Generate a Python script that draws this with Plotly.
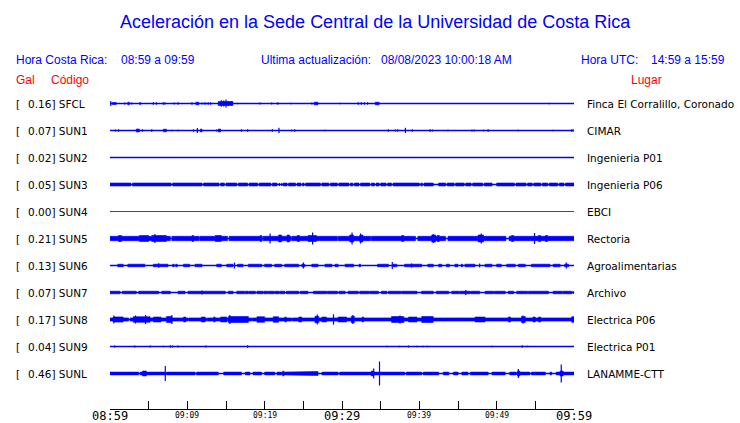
import plotly.graph_objects as go

# ---------------- data ----------------
codes = ["SFCL", "SUN1", "SUN2", "SUN3", "SUN4", "SUN5", "SUN6", "SUN7", "SUN8", "SUN9", "SUNL"]
gal = [0.16, 0.07, 0.02, 0.05, 0.00, 0.21, 0.13, 0.07, 0.17, 0.04, 0.46]
places = ["Finca El Corralillo, Coronado", "CIMAR", "Ingenieria P01", "Ingenieria P06", "EBCI",
          "Rectoria", "Agroalimentarias", "Archivo", "Electrica P06", "Electrica P01", "LANAMME-CTT"]

tick_minutes = list(range(0, 61, 5))
label_minutes = [0, 10, 20, 30, 40, 50, 60]
label_text = ["08:59", "09:09", "09:19", "09:29", "09:39", "09:49", "09:59"]
label_major = [True, False, False, True, False, False, True]

# Envelope data (time in minutes after 08:59, amplitude in relative units)
sfcl_band = 0.0
sfcl_gaps = []
sfcl_bursts = [(0.3, 0.8, 1.0), (2.3, 2.5, 1.3), (11.1, 11.5, 1.3), (14.0, 15.9, 2.0),
               (26.4, 26.9, 1.3), (34.3, 34.8, 1.3)]
sfcl_spikes = [(0.1, 2.5), (1.9, 1.0), (2.8, 1.0), (3.9, 1.5), (5.6, 1.2), (6.0, 1.2), (6.9, 1.2),
               (7.1, 1.0), (8.3, 1.0), (8.8, 1.2), (10.6, 1.2), (11.9, 1.0), (12.2, 1.0), (12.4, 1.0),
               (12.7, 1.2), (13.0, 1.2), (14.4, 3.3), (14.7, 3.0), (15.0, 4.0), (15.3, 2.5), (15.7, 2.0),
               (16.5, 0.8), (19.4, 1.0), (20.9, 1.0), (21.7, 1.2), (23.4, 0.8), (26.1, 1.0), (29.7, 0.8),
               (32.1, 1.2), (32.5, 1.2), (32.9, 1.2), (33.3, 1.2), (56.8, 0.8)]

sun1_band = 0.0
sun1_gaps = []
sun1_bursts = [(3.4, 3.8, 1.5), (6.9, 7.3, 1.3), (11.7, 11.9, 1.5), (14.0, 14.3, 1.5)]
sun1_spikes = [(0.7, 1.0), (1.1, 1.2), (4.2, 1.2), (5.4, 1.2), (8.0, 0.8), (8.8, 0.8), (10.8, 1.2),
               (11.3, 2.5), (13.8, 1.0), (17.0, 1.2), (17.8, 1.2), (21.0, 1.2), (21.85, 2.7), (23.5, 1.0),
               (23.9, 1.2), (27.8, 0.8), (36.0, 1.2), (36.9, 1.0), (37.2, 1.2), (38.2, 2.7), (39.1, 1.2),
               (41.4, 1.2), (41.7, 1.0), (43.7, 0.8), (46.8, 1.0), (47.1, 1.0), (48.3, 0.8), (48.9, 1.2),
               (52.8, 0.8), (57.3, 0.8), (59.7, 1.2), (59.9, 1.0)]

sun2_band = 0.0
sun2_gaps = []
sun2_bursts = []
sun2_spikes = []

sun3_band = 1.5
sun3_gaps = [(2.7, 2.9), (7.9, 8.1), (11.9, 12.1), (14.1, 14.3), (14.8, 15.0), (16.4, 16.6), (17.8, 18.0),
             (19.1, 19.3), (20.8, 21.0), (21.6, 22.4), (22.9, 23.1), (24.0, 24.2), (24.7, 24.9),
             (25.1, 25.3), (27.2, 27.4), (28.3, 28.5), (29.4, 29.6), (30.9, 31.1), (31.4, 31.6),
             (32.2, 32.4), (33.6, 33.8), (34.2, 34.4), (34.8, 35.0), (35.7, 35.9), (36.4, 36.6),
             (40.0, 40.2), (40.4, 40.6), (41.8, 42.5), (43.4, 43.6), (44.5, 44.7), (45.8, 46.0),
             (46.7, 46.9), (48.2, 48.4), (49.4, 50.0), (52.3, 52.5), (53.8, 54.0), (54.6, 54.8),
             (55.7, 55.9), (56.6, 56.8), (57.9, 58.1), (58.7, 58.9)]
sun3_bursts = []
sun3_spikes = [(21.9, 1.5), (22.2, 1.5)]

sun4_band = 0.0
sun4_gaps = []
sun4_bursts = []
sun4_spikes = []

sun5_band = 2.2
sun5_gaps = [(7.8, 8.0), (11.5, 11.6), (15.2, 15.4), (19.7, 19.8), (23.4, 23.5), (29.4, 29.5),
             (33.7, 33.8), (39.5, 39.8), (43.4, 43.7), (51.2, 51.6)]
sun5_bursts = [(1.1, 1.5, 3.0), (3.8, 5.0, 3.0), (5.4, 7.3, 3.0), (8.4, 10.1, 2.5), (10.6, 10.8, 3.0),
               (12.3, 13.1, 2.5), (13.6, 14.4, 3.0), (17.5, 18.3, 2.5), (19.4, 19.6, 3.0), (21.8, 22.2, 3.5),
               (22.9, 23.2, 3.5), (24.2, 24.5, 3.0), (25.6, 26.7, 3.0), (28.7, 28.9, 2.5), (29.7, 30.4, 2.5),
               (31.0, 31.5, 3.5), (32.3, 32.7, 3.5), (37.7, 38.0, 3.0), (41.6, 42.1, 3.5), (42.3, 42.6, 3.0),
               (47.6, 48.3, 3.5), (51.9, 52.2, 3.0), (55.4, 55.7, 3.0), (56.3, 56.6, 3.0)]
sun5_spikes = [(5.8, 4.5), (20.7, 5.0), (26.2, 6.0), (31.3, 6.0), (32.4, 5.0), (41.8, 4.5), (48.0, 5.0),
               (54.9, 5.5)]

sun6_band = 0.0
sun6_gaps = []
sun6_bursts = [(1.0, 1.7, 1.3), (2.3, 4.5, 1.3), (5.6, 7.5, 1.3), (6.0, 6.6, 2.0), (8.1, 8.3, 1.3),
               (8.5, 8.7, 1.3), (9.5, 10.3, 1.3), (11.0, 11.9, 1.3), (13.8, 14.4, 1.3), (15.1, 15.9, 1.3),
               (16.5, 17.2, 1.3), (17.9, 19.6, 1.3), (20.0, 20.9, 1.3), (21.3, 22.2, 1.3), (22.6, 24.4, 1.3),
               (24.8, 25.2, 1.3), (26.1, 26.9, 1.3), (27.8, 28.7, 1.3), (29.1, 29.5, 1.3), (30.4, 31.5, 1.3),
               (32.2, 32.4, 1.3), (34.6, 36.0, 1.3), (36.6, 37.1, 1.3), (38.1, 40.3, 1.3), (41.1, 41.8, 1.3),
               (42.5, 42.9, 1.3), (43.5, 43.9, 1.3), (44.6, 45.0, 1.3), (45.4, 45.6, 1.3), (45.9, 47.2, 1.3),
               (48.5, 49.4, 1.3), (50.0, 50.6, 1.3), (51.3, 52.4, 1.3), (52.8, 53.7, 1.3), (54.5, 56.9, 1.3),
               (57.3, 58.2, 1.3), (58.8, 59.3, 1.3)]
sun6_spikes = [(6.3, 2.2), (16.1, 3.0), (25.0, 3.0), (36.5, 3.5), (39.0, 2.0), (47.8, 2.0), (59.0, 3.0)]

sun7_band = 1.3
sun7_gaps = [(1.3, 1.6), (3.4, 3.7), (6.3, 6.7), (7.8, 8.8), (9.7, 10.1), (14.9, 15.3), (15.9, 16.4),
             (17.4, 17.5), (17.9, 18.0), (18.8, 19.0), (19.8, 19.9), (20.4, 20.5), (21.2, 21.3), (21.9, 22.0),
             (22.6, 22.8), (24.4, 24.6), (25.6, 26.3), (28.0, 28.1), (29.4, 29.6), (30.4, 30.8), (32.1, 32.3),
             (33.5, 33.6), (34.7, 35.1), (35.8, 36.0), (37.6, 37.7), (39.7, 40.3), (41.8, 42.2), (43.8, 44.2),
             (45.1, 45.2), (46.6, 46.7), (47.8, 48.5), (49.6, 49.7), (51.1, 51.5), (52.2, 52.6), (54.0, 54.1),
             (56.7, 57.3), (58.5, 58.6), (59.7, 60.0)]
sun7_bursts = []
sun7_spikes = [(11.9, 2.0), (46.0, 2.5), (59.9, 1.5)]

sun8_band = 1.6
sun8_gaps = [(2.4, 2.6), (10.1, 10.2), (12.5, 12.6), (18.3, 18.4), (23.5, 23.6)]
sun8_bursts = [(0.4, 1.7, 2.6), (3.0, 5.2, 2.8), (5.6, 6.6, 2.5), (7.3, 8.0, 3.0), (9.5, 9.8, 2.5),
               (11.8, 12.3, 2.5), (13.4, 13.6, 2.5), (14.3, 15.1, 2.5), (15.3, 17.9, 3.0), (19.0, 20.0, 2.8),
               (21.1, 21.8, 2.8), (22.6, 22.8, 2.5), (24.4, 24.8, 2.5), (26.5, 27.0, 3.2), (27.4, 28.0, 2.5),
               (29.5, 30.6, 2.5), (31.2, 31.6, 3.2), (32.6, 32.8, 2.5), (36.4, 38.0, 3.0), (38.6, 39.7, 2.5),
               (40.3, 41.8, 3.0), (45.7, 45.9, 2.2), (47.2, 48.5, 2.5), (51.5, 51.8, 2.5), (53.2, 53.7, 3.0),
               (54.7, 55.0, 2.5), (55.4, 55.7, 2.5), (59.7, 60.0, 2.8)]
sun8_spikes = [(0.5, 4.0), (3.3, 4.0), (4.6, 4.5), (8.0, 4.5), (15.5, 4.5), (26.8, 5.0), (28.9, 5.2),
               (31.4, 4.5), (37.5, 4.0), (53.4, 4.0)]

sun9_band = 0.0
sun9_gaps = []
sun9_bursts = []
sun9_spikes = [(0.6, 1.0), (3.2, 1.0), (5.2, 1.0), (6.9, 0.8), (7.8, 1.2), (8.1, 1.0), (8.8, 1.0),
               (12.4, 1.0), (17.8, 1.2), (35.8, 0.8), (37.4, 0.8), (38.6, 1.0), (39.7, 0.8), (40.5, 0.8),
               (41.0, 0.8), (49.4, 0.8), (53.3, 1.2), (54.0, 0.8)]

sunl_band = 1.4
sunl_gaps = [(3.7, 3.9), (7.1, 7.3), (11.0, 11.2), (14.0, 14.7), (17.0, 17.5), (18.1, 18.5), (19.6, 20.0),
             (21.3, 21.6), (22.2, 22.3), (26.9, 27.4), (29.5, 29.7), (38.1, 38.3), (40.3, 40.5),
             (42.5, 43.1), (43.8, 44.4), (45.0, 45.5), (46.3, 46.6), (48.9, 49.4), (51.1, 51.7),
             (52.5, 52.6), (54.3, 54.5), (56.3, 56.9), (57.1, 57.7)]
sunl_bursts = [(3.0, 3.3, 1.8), (4.2, 4.7, 2.5), (12.5, 12.8, 2.0), (20.1, 20.3, 1.8), (22.3, 22.5, 2.3),
               (26.7, 26.9, 2.0), (33.8, 34.1, 2.5), (38.7, 39.0, 2.0), (52.7, 53.0, 2.5), (58.2, 58.6, 2.5)]
sunl_spikes = [(4.5, 2.5), (7.15, 7.5), (34.1, 5.0), (34.85, 12.0), (52.8, 4.5), (58.35, 9.0)]

bands = [sfcl_band, sun1_band, sun2_band, sun3_band, sun4_band, sun5_band, sun6_band, sun7_band,
         sun8_band, sun9_band, sunl_band]
gaps_all = [sfcl_gaps, sun1_gaps, sun2_gaps, sun3_gaps, sun4_gaps, sun5_gaps, sun6_gaps, sun7_gaps,
            sun8_gaps, sun9_gaps, sunl_gaps]
bursts_all = [sfcl_bursts, sun1_bursts, sun2_bursts, sun3_bursts, sun4_bursts, sun5_bursts, sun6_bursts,
              sun7_bursts, sun8_bursts, sun9_bursts, sunl_bursts]
spikes_all = [sfcl_spikes, sun1_spikes, sun2_spikes, sun3_spikes, sun4_spikes, sun5_spikes, sun6_spikes,
              sun7_spikes, sun8_spikes, sun9_spikes, sunl_spikes]

# ---------------- drawing ----------------
BLUE = "#0000ff"
RED = "#ff0000"
T0, T1 = 0.0, 60.0
AMP = 1.0 / 27.0          # amplitude unit -> row units

W, H = 740, 423
L, R, TOP, BOT = 110, 574, 90, 409


def px(x):
    return (x - L) / (R - L)


def py(y):
    return (BOT - y) / (BOT - TOP)


fig = go.Figure()

for i, code in enumerate(codes):
    band, gaps, bursts, spikes = bands[i], gaps_all[i], bursts_all[i], spikes_all[i]
    color = RED if code == "SUN4" else BLUE
    # baseline
    fig.add_trace(go.Scatter(x=[T0, T1], y=[i, i], mode="lines",
                             line=dict(color=color, width=1.0 if code == "SUN4" else 1.3),
                             hoverinfo="skip", showlegend=False))
    # envelope polygon
    cuts = {T0, T1}
    for a, b in gaps:
        cuts |= {a, b}
    for a, b, _ in bursts:
        cuts |= {a, b}
    cuts = sorted(c for c in cuts if T0 <= c <= T1)
    segs = []
    for a, b in zip(cuts[:-1], cuts[1:]):
        m = (a + b) / 2
        e = 0.0 if any(g0 <= m <= g1 for g0, g1 in gaps) else band
        for b0, b1, amp in bursts:
            if b0 <= m <= b1:
                e = max(e, amp)
        segs.append((a, b, e))
    if any(e > 0 for _, _, e in segs):
        xs, ys = [], []
        for a, b, e in segs:
            xs += [a, b]
            ys += [i - e * AMP, i - e * AMP]
        for a, b, e in reversed(segs):
            xs += [b, a]
            ys += [i + e * AMP, i + e * AMP]
        fig.add_trace(go.Scatter(x=xs, y=ys, mode="lines", fill="toself", fillcolor=color,
                                 line=dict(color=color, width=0.6), hoverinfo="skip", showlegend=False))
    if spikes:
        sx, sy = [], []
        for t, a in spikes:
            sx += [t, t, None]
            sy += [i - a * AMP, i + a * AMP, None]
        fig.add_trace(go.Scatter(x=sx, y=sy, mode="lines", line=dict(color=color, width=1.2),
                                 hoverinfo="skip", showlegend=False))

ann = []
lab_font = dict(family="DejaVu Sans", size=10.5, color="black")
for i, code in enumerate(codes):
    ann.append(dict(x=px(15), y=i, xref="paper", yref="y", text="[", showarrow=False,
                    xanchor="left", yanchor="middle", font=lab_font, borderpad=0))
    ann.append(dict(x=px(27), y=i, xref="paper", yref="y", text=f"{gal[i]:.2f}] {code}", showarrow=False,
                    xanchor="left", yanchor="middle", font=lab_font, borderpad=0))
    ann.append(dict(x=px(586), y=i, xref="paper", yref="y", text=places[i], showarrow=False,
                    xanchor="left", yanchor="middle", font=lab_font, borderpad=0))

head_font = dict(family="Liberation Sans", size=12, color=BLUE)
red_font = dict(family="Liberation Sans", size=12, color=RED)
ann.append(dict(x=px(375), y=py(22), xref="paper", yref="paper", showarrow=False, xanchor="center",
                yanchor="middle", text="Aceleración en la Sede Central de la Universidad de Costa Rica",
                font=dict(family="Liberation Sans", size=18, color=BLUE)))
for x, t in [(15, "Hora Costa Rica:"), (120, "08:59 a 09:59"), (260, "Ultima actualización:"),
             (380, "08/08/2023 10:00:18 AM"), (580, "Hora UTC:"), (650, "14:59 a 15:59")]:
    ann.append(dict(x=px(x), y=py(60.5), xref="paper", yref="paper", showarrow=False, xanchor="left",
                    yanchor="middle", text=t, font=head_font, borderpad=0))
for x, t in [(15, "Gal"), (50, "Código"), (630, "Lugar")]:
    ann.append(dict(x=px(x), y=py(80), xref="paper", yref="paper", showarrow=False, xanchor="left",
                    yanchor="middle", text=t, font=red_font, borderpad=0))

for m, t, major in zip(label_minutes, label_text, label_major):
    ann.append(dict(x=m, y=py(416 if major else 415), xref="x", yref="paper", showarrow=False,
                    xanchor="center", yanchor="middle", text=t,
                    font=dict(family="DejaVu Sans Mono", size=12 if major else 8, color="black")))

fig.update_layout(
    width=W, height=H, paper_bgcolor="white", plot_bgcolor="white",
    margin=dict(l=L, r=W - R, t=TOP, b=H - BOT),
    annotations=ann, showlegend=False,
    xaxis=dict(range=[T0, T1], showgrid=False, zeroline=False, showline=True, linecolor="black",
               linewidth=1, ticks="inside", ticklen=8, tickcolor="black", tickwidth=1,
               tickvals=tick_minutes, showticklabels=False, fixedrange=True),
    yaxis=dict(range=[(BOT - 103.5) / 27.0, (TOP - 103.5) / 27.0], showgrid=False, zeroline=False,
               showline=False, showticklabels=False, ticks="", fixedrange=True),
)

fig.write_html("out.html", config={"displayModeBar": False},
               post_script="document.body.style.margin='0';document.body.style.overflow='hidden';")
